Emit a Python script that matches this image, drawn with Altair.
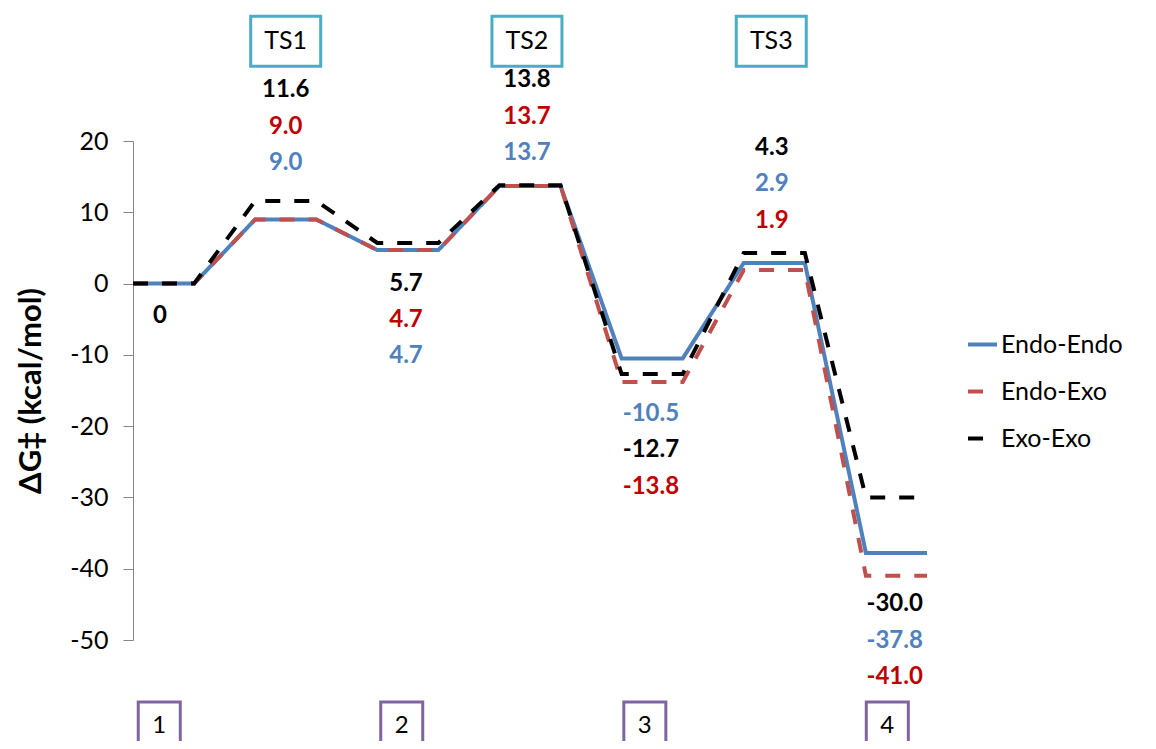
import altair as alt
import pandas as pd

# ---- data ----
series = ["Endo-Endo", "Endo-Exo", "Exo-Exo"]
endo_endo = [0, 9.0, 4.7, 13.7, -10.5, 2.9, -37.8]
endo_exo = [0, 9.0, 4.7, 13.7, -13.8, 1.9, -41.0]
exo_exo = [0, 11.6, 5.7, 13.8, -12.7, 4.3, -30.0]
line_colors = ["#4F81BD", "#C0504D", "#000000"]
label_colors = {"Endo-Endo": "#4F81BD", "Endo-Exo": "#C00000", "Exo-Exo": "#000000"}

# label stacking order (top to bottom) at each state
label_order = [
    ["Exo-Exo"],
    ["Exo-Exo", "Endo-Exo", "Endo-Endo"],
    ["Exo-Exo", "Endo-Exo", "Endo-Endo"],
    ["Exo-Exo", "Endo-Exo", "Endo-Endo"],
    ["Endo-Endo", "Exo-Exo", "Endo-Exo"],
    ["Exo-Exo", "Endo-Endo", "Endo-Exo"],
    ["Exo-Exo", "Endo-Endo", "Endo-Exo"],
]
label_top = [-4.6, 27.1, 0.0, 28.5, -18.3, 19.0, -45.0]
label_x = [0.44, 2.5, 4.47, 6.45, 8.48, 10.46, 12.47]
line_step = 5.1

ts_names = ["TS1", "TS2", "TS3"]
ts_x = [2.5, 6.45, 10.45]
int_names = ["1", "2", "3", "4"]
int_x = [0.43, 4.40, 8.38, 12.35]

values = {"Endo-Endo": endo_endo, "Endo-Exo": endo_exo, "Exo-Exo": exo_exo}

# ---- build tables ----
rows = []
for s in series:
    k = 0
    for i, v in enumerate(values[s]):
        rows.append({"series": s, "x": 2 * i, "y": v, "k": k}); k += 1
        rows.append({"series": s, "x": 2 * i + 1, "y": v, "k": k}); k += 1
lines_df = pd.DataFrame(rows)

lab_rows = []
for i, order in enumerate(label_order):
    for r, s in enumerate(order):
        v = values[s][i]
        txt = "0" if i == 0 else f"{v:.1f}"
        lab_rows.append({"x": label_x[i], "y": label_top[i] - r * line_step,
                         "text": txt, "col": label_colors[s]})
labels_df = pd.DataFrame(lab_rows)

ts_df = pd.DataFrame({"name": ts_names, "c": ts_x})
ts_df["x1"] = ts_df["c"] - 0.573
ts_df["x2"] = ts_df["c"] + 0.573
ts_df["y1"] = 30.5
ts_df["y2"] = 37.5
ts_df["ty"] = 34.0

int_df = pd.DataFrame({"name": int_names, "c": int_x})
int_df["x1"] = int_df["c"] - 0.344
int_df["x2"] = int_df["c"] + 0.344
int_df["y1"] = -70.0
int_df["y2"] = -58.7
int_df["ty"] = -62.0

FONT = "Lato"
xs = alt.Scale(domain=[0, 13], nice=False, zero=False)
ys = alt.Scale(domain=[-50, 20], nice=False, zero=False)

legend = alt.Legend(title=None, orient="none", legendX=833, legendY=187,
                    symbolType="stroke", symbolStrokeWidth=4, symbolSize=841,
                    labelFont=FONT, labelFontSize=25, labelColor="#000000",
                    labelOffset=2, rowPadding=17, padding=0)

lines = alt.Chart(lines_df).mark_line(strokeWidth=4, strokeCap="butt").encode(
    x=alt.X("x:Q", scale=xs, axis=None),
    y=alt.Y("y:Q", scale=ys, axis=alt.Axis(
        values=[-50, -40, -30, -20, -10, 0, 10, 20], grid=False,
        domainColor="#868686", tickColor="#868686", tickSize=10,
        labelFont=FONT, labelFontSize=25, labelColor="#000000", labelPadding=15,
        labelExpr="datum.value < 0 ? '-' + abs(datum.value) : '' + datum.value",
        title="ΔG‡ (kcal/mol)", titleFont=FONT, titleFontSize=31, titleFontWeight="bold",
        titleColor="#000000", titlePadding=22)),
    color=alt.Color("series:N", scale=alt.Scale(domain=series, range=line_colors),
                    legend=legend),
    strokeDash=alt.StrokeDash("series:N", scale=alt.Scale(domain=series,
                              range=[[1, 0], [15, 14], [15, 14]]), legend=legend),
    order="k:Q",
)

labels = alt.Chart(labels_df).mark_text(font=FONT, fontSize=24, fontWeight="bold",
                                        baseline="middle", align="center").encode(
    x=alt.X("x:Q", scale=xs), y=alt.Y("y:Q", scale=ys),
    text="text:N", color=alt.Color("col:N", scale=None))

ts_box = alt.Chart(ts_df).mark_rect(fill="white", stroke="#4BACC6", strokeWidth=3).encode(
    x=alt.X("x1:Q", scale=xs), x2="x2:Q", y=alt.Y("y1:Q", scale=ys), y2="y2:Q")
ts_txt = alt.Chart(ts_df).mark_text(font=FONT, fontSize=25, color="#000000",
                                    baseline="middle", align="center").encode(
    x=alt.X("c:Q", scale=xs), y=alt.Y("ty:Q", scale=ys), text="name:N")

int_box = alt.Chart(int_df).mark_rect(fill="white", stroke="#8064A2", strokeWidth=3).encode(
    x=alt.X("x1:Q", scale=xs), x2="x2:Q", y=alt.Y("y1:Q", scale=ys), y2="y2:Q")
int_txt = alt.Chart(int_df).mark_text(font=FONT, fontSize=24, color="#000000",
                                      baseline="middle", align="center").encode(
    x=alt.X("c:Q", scale=xs), y=alt.Y("ty:Q", scale=ys), text="name:N")

chart = alt.layer(lines, labels, ts_box, ts_txt, int_box, int_txt).properties(
    width=794, height=499,
    autosize=alt.AutoSizeParams(type="none"),
    padding={"left": 125, "top": 133, "right": 221, "bottom": 101},
).configure_view(strokeWidth=0)

chart.save("out.html", embed_options={"renderer": "svg", "actions": False})
